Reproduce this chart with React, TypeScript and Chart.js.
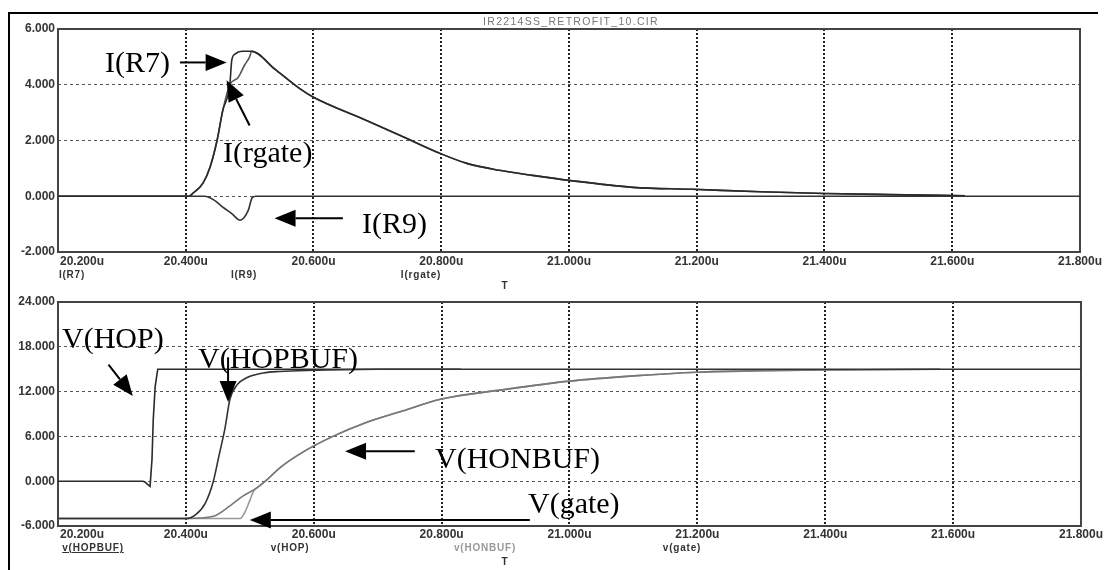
import React, { useEffect, useRef } from 'react';
import { Chart, registerables } from 'chart.js';

Chart.register(...registerables);

// ---- Axis ticks ----
const X_TICKS = [20.2, 20.4, 20.6, 20.8, 21.0, 21.2, 21.4, 21.6, 21.8];
const Y_TICKS_I = [-2, 0, 2, 4, 6];
const Y_TICKS_V = [-6, 0, 6, 12, 18, 24];

// ---- Top plot: currents (time in us) ----
const T_IR7 = [20.2, 20.405, 20.411, 20.427, 20.438, 20.449, 20.458, 20.469, 20.472, 20.477, 20.488, 20.503, 20.54, 20.578, 20.6, 20.683, 20.735, 20.8, 20.84, 20.891, 20.943, 21.0, 21.1, 21.193, 21.3, 21.4, 21.5, 21.62];
const V_IR7 = [0, 0, 0.1, 0.47, 1.04, 2.0, 3.08, 4.0, 4.87, 5.1, 5.2, 5.2, 4.55, 3.87, 3.55, 2.72, 2.19, 1.52, 1.18, 0.93, 0.75, 0.57, 0.32, 0.25, 0.16, 0.1, 0.06, 0.02];

const T_IRGATE = [20.2, 20.405, 20.411, 20.427, 20.438, 20.449, 20.458, 20.469, 20.482, 20.492, 20.5, 20.503, 20.54, 20.578, 20.6, 20.683, 20.735, 20.8, 20.84, 20.891, 20.943, 21.0, 21.1, 21.193, 21.3, 21.4, 21.5, 21.62];
const V_IRGATE = [0, 0, 0.1, 0.47, 1.04, 2.0, 3.08, 4.0, 4.26, 4.7, 5.0, 5.2, 4.55, 3.87, 3.55, 2.72, 2.19, 1.52, 1.18, 0.93, 0.75, 0.57, 0.32, 0.25, 0.16, 0.1, 0.06, 0.02];

const T_IR9 = [20.2, 20.43, 20.445, 20.458, 20.472, 20.485, 20.498, 20.504, 20.51, 21.8];
const V_IR9 = [0, 0, -0.15, -0.39, -0.62, -0.86, -0.5, -0.05, 0, 0];

// ---- Bottom plot: voltages ----
const T_VHOP = [20.2, 20.333, 20.336, 20.341, 20.344, 20.347, 20.349, 20.352, 20.356, 20.36, 20.83];
const V_VHOP = [0, 0, -0.1, -0.5, -0.7, 2.9, 8.3, 12.7, 15.0, 15.0, 15.0];

const T_VHOPBUF = [20.2, 20.399, 20.415, 20.43, 20.443, 20.452, 20.461, 20.469, 20.48, 20.496, 20.521, 20.547, 20.6, 20.7, 21.8];
const V_VHOPBUF = [-5, -5, -4.5, -3.0, 0, 3.5, 7, 11, 12.9, 13.9, 14.5, 14.7, 14.85, 15, 15];

const T_VHONBUF = [20.2, 20.399, 20.443, 20.469, 20.489, 20.511, 20.527, 20.547, 20.583, 20.63, 20.68, 20.735, 20.8, 20.9, 21.0, 21.1, 21.2, 21.3, 21.4, 21.58];
const V_VHONBUF = [-5, -5, -4.7, -3.3, -2.0, -0.9, 0.2, 1.8, 3.9, 6.0, 7.8, 9.3, 11.0, 12.3, 13.4, 14.1, 14.6, 14.8, 14.9, 15.0];

const T_VGATE = [20.2, 20.485, 20.492, 20.5, 20.506, 20.511, 20.527, 20.547, 20.583, 20.63, 20.68, 20.735, 20.8, 20.9, 21.0, 21.1, 21.2, 21.3, 21.4, 21.58];
const V_VGATE = [-5, -5, -4.2, -2.6, -1.3, -0.9, 0.2, 1.8, 3.9, 6.0, 7.8, 9.3, 11.0, 12.3, 13.4, 14.1, 14.6, 14.8, 14.9, 15.0];

// ---- Annotation arrows (data coordinates: [time, value]) ----
const ARROWS_I = [
  { from: [20.391, 4.8], to: [20.464, 4.8] },
  { from: [20.5, 2.54], to: [20.464, 4.16] },
  { from: [20.646, -0.79], to: [20.539, -0.79] },
];
const ARROWS_V = [
  { from: [20.279, 15.6], to: [20.317, 11.4] },
  { from: [20.466, 16.6], to: [20.466, 10.6] },
  { from: [20.758, 4.0], to: [20.649, 4.0] },
  { from: [20.938, -5.2], to: [20.5, -5.2] },
];

const pts = (t: number[], v: number[]) => t.map((x, i) => ({ x, y: v[i] }));

const TICK_FONT = { family: 'Liberation Sans, Arial, sans-serif', size: 12, weight: 'bold' as const };

const framePlugin = {
  id: 'frame',
  beforeDatasetsDraw(chart: any) {
    const { ctx, chartArea: a } = chart;
    ctx.save();
    ctx.setLineDash([]);
    ctx.strokeStyle = '#444';
    ctx.lineWidth = 2;
    ctx.strokeRect(a.left, a.top, a.right - a.left, a.bottom - a.top);
    ctx.restore();
  },
};

const firstLabelLeft = {
  id: 'firstLabelLeft',
  beforeDraw(chart: any) {
    try {
      const sx = chart.scales.x;
      const items = sx.getLabelItems(chart.chartArea);
      if (items && items.length && !items[0].__shifted) {
        items[0].options.textAlign = 'left';
        items[0].options.translation[0] += 2;
        items[0].__shifted = true;
      }
    } catch (e) {
      /* ignore */
    }
  },
};

const makeArrowPlugin = (arrows: { from: number[]; to: number[] }[]) => ({
  id: 'arrows',
  afterDatasetsDraw(chart: any) {
    const { ctx } = chart;
    const sx = chart.scales.x;
    const sy = chart.scales.y;
    ctx.save();
    ctx.setLineDash([]);
    ctx.strokeStyle = '#000';
    ctx.fillStyle = '#000';
    ctx.lineWidth = 2;
    for (const a of arrows) {
      const x1 = sx.getPixelForValue(a.from[0]);
      const y1 = sy.getPixelForValue(a.from[1]);
      const x2 = sx.getPixelForValue(a.to[0]);
      const y2 = sy.getPixelForValue(a.to[1]);
      const ang = Math.atan2(y2 - y1, x2 - x1);
      const L = 21;
      const W = 8.5;
      const c = Math.cos(ang);
      const s = Math.sin(ang);
      const bx = x2 - L * c;
      const by = y2 - L * s;
      ctx.beginPath();
      ctx.moveTo(x1, y1);
      ctx.lineTo(bx, by);
      ctx.stroke();
      ctx.beginPath();
      ctx.moveTo(x2, y2);
      ctx.lineTo(bx + W * s, by - W * c);
      ctx.lineTo(bx - W * s, by + W * c);
      ctx.closePath();
      ctx.fill();
    }
    ctx.restore();
  },
});

const makeOptions = (yMin: number, yMax: number, yTicks: number[], topPad: number, xHeight: number, xPad: number) => ({
  responsive: false,
  maintainAspectRatio: false,
  animation: false as const,
  events: [] as any[],
  layout: { padding: { top: topPad, right: 23, left: 0, bottom: 0 } },
  plugins: {
    legend: { display: false },
    tooltip: { enabled: false },
    title: { display: false },
  },
  scales: {
    x: {
      type: 'linear' as const,
      min: 20.2,
      max: 21.8,
      afterBuildTicks: (s: any) => {
        s.ticks = X_TICKS.map((value) => ({ value }));
      },
      afterFit: (s: any) => {
        s.height = xHeight;
      },
      ticks: {
        autoSkip: false,
        maxRotation: 0,
        minRotation: 0,
        padding: xPad,
        color: '#333',
        font: TICK_FONT,
        callback: (v: any) => Number(v).toFixed(3) + 'u',
      },
      grid: { color: '#222', lineWidth: 2, drawTicks: false },
      border: { display: false, dash: [2, 2] },
    },
    y: {
      type: 'linear' as const,
      min: yMin,
      max: yMax,
      afterBuildTicks: (s: any) => {
        s.ticks = yTicks.map((value) => ({ value }));
      },
      afterFit: (s: any) => {
        s.width = 58;
      },
      ticks: {
        padding: 3,
        color: '#333',
        font: TICK_FONT,
        callback: (v: any) => Number(v).toFixed(3),
      },
      grid: { color: '#555', lineWidth: 1, drawTicks: false },
      border: { display: false, dash: [3, 3] },
    },
  },
});

const line = (label: string, data: any[], color: string, smooth = true) => ({
  label,
  data,
  borderColor: color,
  backgroundColor: color,
  borderWidth: 1.6,
  pointRadius: 0,
  fill: false,
  tension: 0,
  cubicInterpolationMode: smooth ? ('monotone' as const) : ('default' as const),
});

const serif: React.CSSProperties = {
  position: 'absolute',
  fontFamily: '"Liberation Serif", "Times New Roman", serif',
  fontSize: 30,
  lineHeight: '30px',
  color: '#000',
  whiteSpace: 'nowrap',
};

const small = (color = '#333'): React.CSSProperties => ({
  position: 'absolute',
  fontFamily: '"Liberation Sans", Arial, sans-serif',
  fontSize: 10,
  fontWeight: 'bold',
  letterSpacing: 0.8,
  lineHeight: '10px',
  color,
  whiteSpace: 'nowrap',
  transform: 'translate(-50%, -50%)',
});

export default function App() {
  const topRef = useRef<HTMLCanvasElement | null>(null);
  const botRef = useRef<HTMLCanvasElement | null>(null);

  useEffect(() => {
    if (!topRef.current || !botRef.current) return;
    const top = new Chart(topRef.current, {
      type: 'line',
      data: {
        datasets: [
          line('I(R7)', pts(T_IR7, V_IR7), '#2a2a2a'),
          line('I(rgate)', pts(T_IRGATE, V_IRGATE), '#555'),
          line('I(R9)', pts(T_IR9, V_IR9), '#333'),
        ],
      },
      options: makeOptions(-2, 6, Y_TICKS_I, 29, 38, 2) as any,
      plugins: [framePlugin, firstLabelLeft, makeArrowPlugin(ARROWS_I)],
    });
    const bot = new Chart(botRef.current, {
      type: 'line',
      data: {
        datasets: [
          line('v(HOPBUF)', pts(T_VHOPBUF, V_VHOPBUF), '#333'),
          line('v(HOP)', pts(T_VHOP, V_VHOP), '#2a2a2a', false),
          line('v(HONBUF)', pts(T_VHONBUF, V_VHONBUF), '#777'),
          line('v(gate)', pts(T_VGATE, V_VGATE), '#999'),
        ],
      },
      options: makeOptions(-6, 24, Y_TICKS_V, 12, 44, 1) as any,
      plugins: [framePlugin, firstLabelLeft, makeArrowPlugin(ARROWS_V)],
    });
    return () => {
      top.destroy();
      bot.destroy();
    };
  }, []);

  return (
    <div style={{ position: 'absolute', left: 0, top: 0, width: 1104, height: 570, background: '#fff', overflow: 'hidden' }}>
      <div
        style={{
          position: 'absolute',
          left: 8,
          top: 12,
          width: 1090,
          height: 570,
          borderTop: '2px solid #000',
          borderLeft: '2px solid #000',
          boxSizing: 'border-box',
        }}
      />
      <canvas ref={topRef} width={1104} height={290} style={{ position: 'absolute', left: 0, top: 0 }} />
      <canvas ref={botRef} width={1104} height={280} style={{ position: 'absolute', left: 0, top: 290 }} />

      {/* title */}
      <div
        style={{
          position: 'absolute',
          left: 571,
          top: 21,
          transform: 'translate(-50%, -50%)',
          fontFamily: '"Liberation Sans", Arial, sans-serif',
          fontSize: 10.5,
          letterSpacing: 1.3,
          lineHeight: '11px',
          color: '#777',
          whiteSpace: 'nowrap',
        }}
      >
        IR2214SS_RETROFIT_10.CIR
      </div>

      {/* trace names under the axes */}
      <div style={{ ...small(), left: 72, top: 275 }}>I(R7)</div>
      <div style={{ ...small(), left: 244, top: 275 }}>I(R9)</div>
      <div style={{ ...small(), left: 421, top: 275 }}>I(rgate)</div>
      <div style={{ ...small(), left: 505, top: 286 }}>T</div>

      <div style={{ ...small(), left: 93, top: 548, textDecoration: 'underline' }}>v(HOPBUF)</div>
      <div style={{ ...small(), left: 290, top: 548 }}>v(HOP)</div>
      <div style={{ ...small('#999'), left: 485, top: 548 }}>v(HONBUF)</div>
      <div style={{ ...small(), left: 682, top: 548 }}>v(gate)</div>
      <div style={{ ...small(), left: 505, top: 562 }}>T</div>

      {/* annotations */}
      <div style={{ ...serif, left: 105, top: 47 }}>I(R7)</div>
      <div style={{ ...serif, left: 223, top: 137 }}>I(rgate)</div>
      <div style={{ ...serif, left: 362, top: 208 }}>I(R9)</div>
      <div style={{ ...serif, left: 62, top: 323 }}>V(HOP)</div>
      <div style={{ ...serif, left: 198, top: 343 }}>V(HOPBUF)</div>
      <div style={{ ...serif, left: 435, top: 443 }}>V(HONBUF)</div>
      <div style={{ ...serif, left: 528, top: 488 }}>V(gate)</div>
    </div>
  );
}
